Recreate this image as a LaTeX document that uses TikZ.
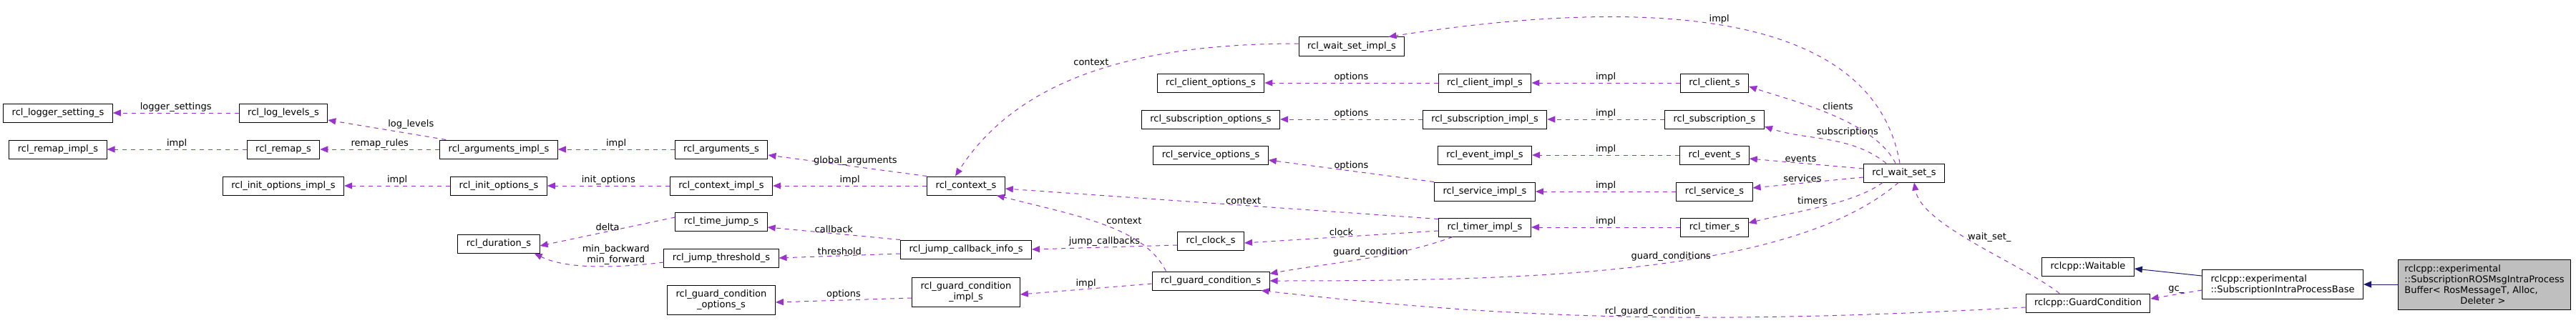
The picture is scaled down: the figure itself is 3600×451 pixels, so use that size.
\documentclass[tikz,border=0pt]{standalone}
\usepackage{fontspec}
\setmainfont{DejaVu Sans}
\usetikzlibrary{arrows.meta}
\definecolor{memb}{HTML}{9A32CD}
\definecolor{inh}{HTML}{191970}
\tikzset{
  box/.style={
    draw=black,
    line width=1pt,
    minimum height=26pt,
    inner xsep=12pt,
    inner ysep=3pt,
    font=\fontsize{13}{15}\selectfont,
  },
  two box/.style={
    box,
    align=center,
    minimum height=41pt,
  },
  memb edge/.style={
    draw=memb,
    dashed,
    dash pattern=on 6pt off 6pt,
    line width=1pt,
    -{Triangle[length=11pt,width=9pt]},
  },
  inh edge/.style={
    draw=inh,
    line width=1pt,
    -{Triangle[length=11pt,width=9pt]},
  },
  lbl/.style={
    font=\fontsize{13}{15}\selectfont,
    inner sep=1pt,
    align=center,
  }
}

\begin{document}
\begin{tikzpicture}[x=1pt,y=1pt]
        \useasboundingbox (0,0) rectangle (3600,451);

        % left columns
        \node [box] (logset) at (81,293) {rcl\_logger\_setting\_s};
        \node [box] (loglev) at (396,293) {rcl\_log\_levels\_s};
        \node [box] (remapimpl) at (81,242) {rcl\_remap\_impl\_s};
        \node [box] (remap) at (396,242) {rcl\_remap\_s};
        \node [box] (argsimpl) at (697,242) {rcl\_arguments\_impl\_s};
        \node [box] (initoptimpl) at (396,191) {rcl\_init\_options\_impl\_s};
        \node [box] (initopt) at (697,191) {rcl\_init\_options\_s};
        \node [box] (duration) at (697,110) {rcl\_duration\_s};

        \node [box] (args) at (1008,242) {rcl\_arguments\_s};
        \node [box] (ctximpl) at (1008,191) {rcl\_context\_impl\_s};
        \node [box] (timejump) at (1008,141) {rcl\_time\_jump\_s};
        \node [box] (jumpthr) at (1008,90) {rcl\_jump\_threshold\_s};
        \node [two box] (gcopt) at (1008,31) {rcl\_guard\_condition\\\_options\_s};

        \node [box] (ctx) at (1350,191) {rcl\_context\_s};
        \node [box] (jumpcb) at (1350,102) {rcl\_jump\_callback\_info\_s};
        \node [two box] (gcimpl) at (1350,42) {rcl\_guard\_condition\\\_impl\_s};

        % options and impl columns
        \node [box] (cliopt) at (1692,335) {rcl\_client\_options\_s};
        \node [box] (subopt) at (1692,284) {rcl\_subscription\_options\_s};
        \node [box] (srvopt) at (1692,234) {rcl\_service\_options\_s};
        \node [box] (clock) at (1692,114) {rcl\_clock\_s};
        \node [box] (gc) at (1692,58) {rcl\_guard\_condition\_s};

        \node [box] (wsimpl) at (1889,386) {rcl\_wait\_set\_impl\_s};
        \node [box] (cliimpl) at (2075,335) {rcl\_client\_impl\_s};
        \node [box] (subimpl) at (2075,284) {rcl\_subscription\_impl\_s};
        \node [box] (evimpl) at (2075,234) {rcl\_event\_impl\_s};
        \node [box] (srvimpl) at (2075,183) {rcl\_service\_impl\_s};
        \node [box] (timimpl) at (2075,133) {rcl\_timer\_impl\_s};

        \node [box] (cli) at (2396,335) {rcl\_client\_s};
        \node [box] (sub) at (2396,284) {rcl\_subscription\_s};
        \node [box] (ev) at (2396,234) {rcl\_event\_s};
        \node [box] (srv) at (2396,183) {rcl\_service\_s};
        \node [box] (tim) at (2396,133) {rcl\_timer\_s};
        \node [box] (ws) at (2661,209) {rcl\_wait\_set\_s};

        % rclcpp side
        \node [box] (waitable) at (2918,78) {rclcpp::Waitable};
        \node [box] (guardc) at (2918,27) {rclcpp::GuardCondition};
        \node [two box, align=left] (ipbase) at (3190,53) {rclcpp::experimental\\::SubscriptionIntraProcessBase};
        \node [box, fill=gray!50, align=left, minimum height=70pt, inner xsep=9pt] (buf) at (3472,53)
          {rclcpp::experimental\\::SubscriptionROSMsgIntraProcess\\Buffer< RosMessageT, Alloc,\\\hspace*{78pt}Deleter >};

        % members
        \draw [memb edge] (loglev) -- node[lbl, above] {logger\_settings} (logset);
        \draw [memb edge] ([xshift=9pt]argsimpl.north west) -- node[lbl, above right] {log\_levels} ([yshift=-10pt]loglev.east);
        \draw [memb edge] (argsimpl) -- node[lbl, above] {remap\_rules} (remap);
        \draw [memb edge] (remap) -- node[lbl, above] {impl} (remapimpl);
        \draw [memb edge] (args) -- node[lbl, above] {impl} (argsimpl);
        \draw [memb edge] (initopt) -- node[lbl, above] {impl} (initoptimpl);
        \draw [memb edge] (ctximpl) -- node[lbl, above] {init\_options} (initopt);
        \draw [memb edge] (ctx.north west) -- node[lbl, above, pos=0.45] {global\_arguments} ([yshift=-8pt]args.east);
        \draw [memb edge] (ctx) -- node[lbl, above] {impl} (ctximpl);
        \draw [memb edge] ([yshift=6pt]timejump.west) -- node[lbl, above] {delta} ([yshift=-3pt]duration.east);
        \draw [memb edge] ([yshift=-6pt]jumpthr.west) .. controls +(-80,-10) and +(40,-20) ..
          node[lbl, above, pos=0.3] {min\_backward\\min\_forward} ([xshift=-8pt]duration.south east);
        \draw [memb edge] (jumpcb.north west) -- node[lbl, above] {callback} ([yshift=-8pt]timejump.east);
        \draw [memb edge] ([yshift=-6pt]jumpcb.west) -- node[lbl, above] {threshold} (jumpthr.east);
        \draw [memb edge] ([yshift=-8pt]gcimpl.west) -- node[lbl, above] {options} ([yshift=-3pt]gcopt.east);
        \draw [memb edge] ([yshift=-6pt]clock.west) -- node[lbl, above] {jump\_callbacks} (jumpcb.east);
        \draw [memb edge] ([yshift=-4pt]gc.west) -- node[lbl, above] {impl} ([yshift=-3pt]gcimpl.east);
        \draw [memb edge] ([xshift=20pt]gc.north west) .. controls +(-30,60) and +(120,-30) ..
          node[lbl, above right, pos=0.5] {context} ([xshift=-12pt]ctx.south east);
        \draw [memb edge] ([yshift=-2pt]timimpl.north west) -- node[lbl, above, pos=0.45] {context} ([yshift=-4pt]ctx.east);
        \draw [memb edge] ([yshift=4pt]wsimpl.west) .. controls +(-220,0) and +(90,140) ..
          node[lbl, above left, pos=0.45] {context} ([xshift=-15pt]ctx.north);
        \draw [memb edge] ([xshift=-6pt]ws.north) .. controls +(-40,230) and +(320,50) ..
          node[lbl, above, pos=0.5] {impl} ([xshift=-23pt]wsimpl.north east);

        \draw [memb edge] (cliimpl) -- node[lbl, above] {options} (cliopt);
        \draw [memb edge] (subimpl) -- node[lbl, above] {options} (subopt);
        \draw [memb edge] (srvimpl.north west) -- node[lbl, above, pos=0.5] {options} ([yshift=-7pt]srvopt.east);
        \draw [memb edge] ([yshift=-5pt]timimpl.west) -- node[lbl, above] {clock} ([yshift=-3pt]clock.east);
        \draw [memb edge] ([xshift=20pt]timimpl.south west) .. controls +(-80,-30) and +(80,15) ..
          node[lbl, above, pos=0.45] {guard\_condition} ([yshift=10pt]gc.east);
        \draw [memb edge] ([xshift=-8pt]ws.south) .. controls +(-150,-130) and +(350,0) ..
          node[lbl, above, pos=0.45] {guard\_conditions} (gc.east);
        \draw [memb edge] ([yshift=-6pt]guardc.west) .. controls +(-450,-25) and +(350,-40) ..
          node[lbl, above, pos=0.45] {rcl\_guard\_condition\_} ([xshift=-12pt]gc.south east);

        \draw [memb edge] (cli) -- node[lbl, above] {impl} (cliimpl);
        \draw [memb edge] (sub) -- node[lbl, above] {impl} (subimpl);
        \draw [memb edge] (ev) -- node[lbl, above] {impl} (evimpl);
        \draw [memb edge] (srv) -- node[lbl, above] {impl} (srvimpl);
        \draw [memb edge] (tim) -- node[lbl, above] {impl} (timimpl);

        \draw [memb edge] ([xshift=-12pt]ws.north) .. controls +(-30,60) and +(60,-20) ..
          node[lbl, above right, pos=0.55] {clients} ([yshift=-5pt]cli.east);
        \draw [memb edge] ([xshift=-25pt]ws.north) .. controls +(-50,40) and +(60,-20) ..
          node[lbl, above right, pos=0.6] {subscriptions} ([yshift=-10pt]sub.east);
        \draw [memb edge] ([yshift=6pt]ws.west) -- node[lbl, above, pos=0.55] {events} ([yshift=-5pt]ev.east);
        \draw [memb edge] ([yshift=-6pt]ws.west) -- node[lbl, above, pos=0.55] {services} ([yshift=5pt]srv.east);
        \draw [memb edge] ([xshift=-30pt]ws.south) .. controls +(-40,-30) and +(60,15) ..
          node[lbl, above left, pos=0.45] {timers} ([yshift=6pt]tim.east);
        \draw [memb edge] ([xshift=-40pt]guardc.north) .. controls +(-50,40) and +(10,-60) ..
          node[lbl, right, pos=0.55] {wait\_set\_} ([xshift=14pt]ws.south);
        \draw [memb edge] ([yshift=-8pt]ipbase.west) -- node[lbl, above] {gc\_} ([yshift=6pt]guardc.east);

        % inheritance
        \draw [inh edge] ([yshift=12pt]ipbase.west) -- ([yshift=-3pt]waitable.east);
        \draw [inh edge] (buf) -- (ipbase);
    \end{tikzpicture}
\end{document}
